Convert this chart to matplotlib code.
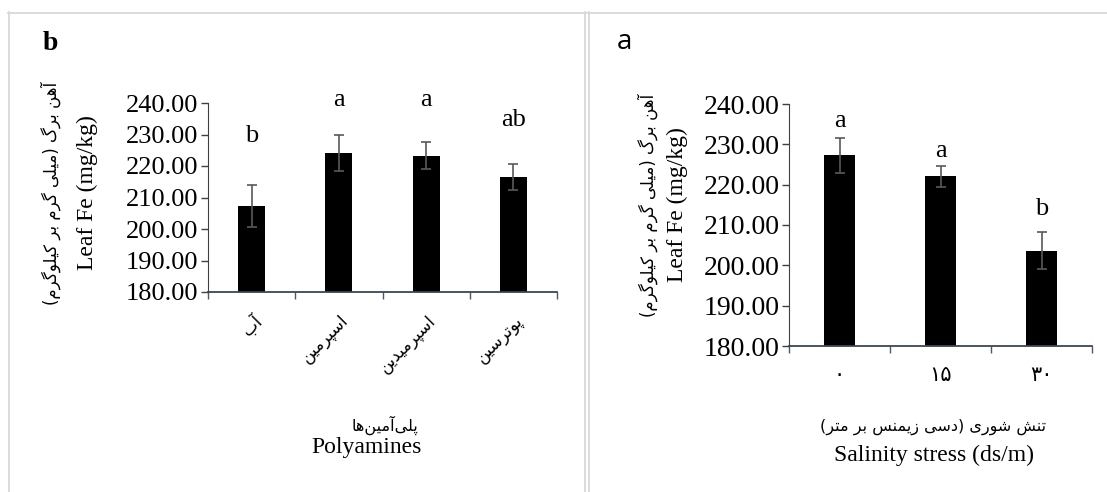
import matplotlib
matplotlib.use("Agg")
import matplotlib.pyplot as plt
from matplotlib.lines import Line2D

# ---- data ----
poly_cats = ['آب', 'اسپرمین', 'اسپرمیدین', 'پوترسین']
poly_fe = [207.3, 224.0, 223.3, 216.5]
poly_err = [6.6, 5.7, 4.4, 4.1]
poly_letters = ['b', 'a', 'a', 'ab']
poly_letter_y = [227.7, 238.9, 238.9, 232.6]

salt_cats = ['۰', '۱۵', '۳۰']
salt_fe = [227.3, 222.1, 203.6]
salt_err = [4.3, 2.6, 4.6]
salt_letters = ['a', 'a', 'b']
salt_letter_y = [234.2, 226.9, 212.5]

ylabel_fa = 'آهن برگ (میلی گرم بر کیلوگرم)'
ylabel_en = 'Leaf Fe (mg/kg)'
poly_xlabel_fa = 'پلی\u200cآمین\u200cها'
poly_xlabel_en = 'Polyamines'
salt_xlabel_fa = 'تنش شوری (دسی زیمنس بر متر)'
salt_xlabel_en = 'Salinity stress (ds/m)'

# matplotlib has no arabic shaping, so pick the joined glyph forms by hand
# (isolated, final, initial, medial); None = letter never joins the next one
FORMS = {
    'ا': ('\uFE8D', '\uFE8E', None, None),
    'آ': ('\uFE81', '\uFE82', None, None),
    'ب': ('\uFE8F', '\uFE90', '\uFE91', '\uFE92'),
    'پ': ('\uFB56', '\uFB57', '\uFB58', '\uFB59'),
    'ت': ('\uFE95', '\uFE96', '\uFE97', '\uFE98'),
    'د': ('\uFEA9', '\uFEAA', None, None),
    'ر': ('\uFEAD', '\uFEAE', None, None),
    'ز': ('\uFEAF', '\uFEB0', None, None),
    'س': ('\uFEB1', '\uFEB2', '\uFEB3', '\uFEB4'),
    'ش': ('\uFEB5', '\uFEB6', '\uFEB7', '\uFEB8'),
    'ک': ('\uFB8E', '\uFB8F', '\uFB90', '\uFB91'),
    'گ': ('\uFB92', '\uFB93', '\uFB94', '\uFB95'),
    'ل': ('\uFEDD', '\uFEDE', '\uFEDF', '\uFEE0'),
    'م': ('\uFEE1', '\uFEE2', '\uFEE3', '\uFEE4'),
    'ن': ('\uFEE5', '\uFEE6', '\uFEE7', '\uFEE8'),
    'ه': ('\uFEE9', '\uFEEA', '\uFEEB', '\uFEEC'),
    'و': ('\uFEED', '\uFEEE', None, None),
    'ی': ('\uFBFC', '\uFBFD', '\uFBFE', '\uFBFF'),
}


def fa(text):
    out = []
    for i, ch in enumerate(text):
        if ch not in FORMS:
            if ch != '\u200c':
                out.append(ch)
            continue
        prev = text[i - 1] if i > 0 else ''
        nxt = text[i + 1] if i + 1 < len(text) else ''
        jp = prev in FORMS and FORMS[prev][2] is not None
        jn = nxt in FORMS and FORMS[ch][2] is not None
        iso, fin, ini, med = FORMS[ch]
        out.append(med if (jp and jn) else fin if jp else ini if jn else iso)
    mirror = {'(': ')', ')': '('}
    return ''.join(mirror.get(c, c) for c in reversed(out))


W, H = 1107, 492
SERIF = ['Liberation Serif', 'DejaVu Serif']
FAFONT = ['DejaVu Sans']
plt.rcParams['font.family'] = SERIF


def px(x, y):
    return x / W, 1 - y / H


fig = plt.figure(figsize=(W / 100, H / 100), dpi=100)

# frame lines of the two panels
border = '#d9d9d9'
for xs, ys in [((8, W), (12.5, 12.5)), ((8.5, 8.5), (12, H)),
               ((585, 585), (12, H)), ((589, 589), (12, H))]:
    p0, p1 = px(xs[0], ys[0]), px(xs[1], ys[1])
    fig.add_artist(Line2D([p0[0], p1[0]], [p0[1], p1[1]], color=border, lw=1.3))


def bar_panel(rect, cats, vals, errs, letters, letter_y, tick_size, persian_ticks):
    ax = fig.add_axes(rect)
    x = list(range(len(cats)))
    ax.bar(x, vals, width=0.31, color='black', zorder=2)
    ax.errorbar(x, vals, yerr=errs, fmt='none', ecolor='#595959',
                elinewidth=1.2, capsize=3.5, capthick=1.2, zorder=3)
    for xi, lab, ly in zip(x, letters, letter_y):
        ax.text(xi, ly, lab, ha='center', va='baseline', fontsize=19,
                family=SERIF, clip_on=False)
    ax.set_xlim(-0.5, len(cats) - 0.5)
    ax.set_ylim(180, 240)
    ax.set_yticks(range(180, 241, 10))
    ax.set_yticklabels([f'{v:.2f}' for v in range(180, 241, 10)])
    ax.tick_params(axis='y', labelsize=tick_size, length=5, width=1, pad=2,
                   color='#404040')
    ax.set_xticks([i - 0.5 for i in range(len(cats) + 1)], minor=True)
    ax.tick_params(axis='x', which='minor', length=5, width=1, color='#4a5a6a')
    ax.set_xticks(x)
    ax.tick_params(axis='x', which='major', length=0)
    if persian_ticks:
        ax.set_xticklabels([fa(c) for c in cats], rotation=45, ha='right',
                           va='top', rotation_mode='anchor', fontsize=12,
                           family=FAFONT)
        ax.tick_params(axis='x', which='major', pad=14)
    else:
        ax.set_xticklabels(cats, fontsize=15, family=FAFONT)
        ax.tick_params(axis='x', which='major', pad=14)
    for s in ['top', 'right']:
        ax.spines[s].set_visible(False)
    ax.spines['left'].set_color('#404040')
    ax.spines['bottom'].set_color('#3c4650')
    ax.spines['bottom'].set_linewidth(1.3)
    return ax


# left panel (b): polyamines
bar_panel([208 / W, 1 - 292 / H, (557 - 208) / W, (292 - 103) / H],
          poly_cats, poly_fe, poly_err, poly_letters, poly_letter_y, 19, True)
# right panel (a): salinity
bar_panel([789 / W, 1 - 346 / H, (1092 - 789) / W, (346 - 104) / H],
          salt_cats, salt_fe, salt_err, salt_letters, salt_letter_y, 20, False)

# panel letters
fig.text(*px(50, 43), 'b', fontsize=20, fontweight='bold', family=SERIF,
         ha='center', va='center')
fig.text(*px(624, 42), 'a', fontsize=20, family=['Open Sans', 'DejaVu Sans'],
         ha='center', va='center')

# y axis titles
for xfa, xen, yc in [(51, 87, 193), (648, 677, 205)]:
    fig.text(*px(xfa, yc), fa(ylabel_fa), rotation=90, fontsize=12,
             family=FAFONT, ha='center', va='center')
    fig.text(*px(xen, yc), ylabel_en, rotation=90, fontsize=17,
             family=SERIF, ha='center', va='center')

# x axis titles
fig.text(*px(385, 425), fa(poly_xlabel_fa), fontsize=11.5, family=FAFONT,
         ha='center', va='center')
fig.text(*px(367, 448), poly_xlabel_en, fontsize=17, family=SERIF,
         ha='center', va='center')
fig.text(*px(933, 427), fa(salt_xlabel_fa), fontsize=11.5, family=FAFONT,
         ha='center', va='center')
fig.text(*px(934, 455), salt_xlabel_en, fontsize=17, family=SERIF,
         ha='center', va='center')

fig.savefig('out.png', dpi=100, facecolor='white')
